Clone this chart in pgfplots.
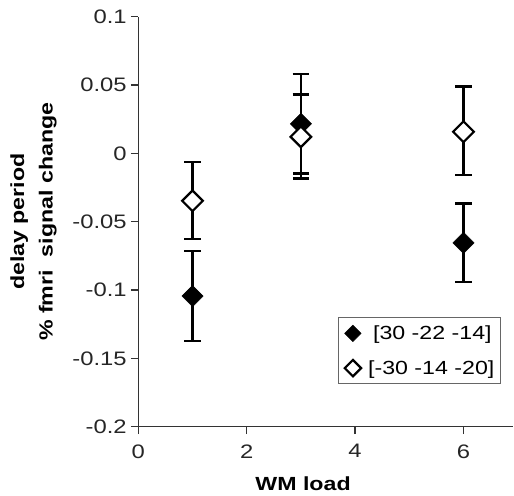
\documentclass[border=0pt]{standalone}
\usepackage{pgfplots}
\pgfplotsset{compat=1.18}
\usepackage{fontspec}
\setmainfont{Liberation Sans}[FakeStretch=1.22]
\newcommand{\tl}[1]{\mbox{\fontsize{19.5bp}{24bp}\selectfont #1}}
\begin{document}
\begin{tikzpicture}[font=\fontsize{19bp}{23bp}\selectfont]
\begin{axis}[
  scale only axis,
  width=375bp, height=410bp,
  xmin=0, xmax=6.92, ymin=-0.2, ymax=0.1,
  clip=false,
  axis x line*=bottom, axis y line*=left,
  axis line style={black!80, line width=1.3bp},
  tick align=outside,
  major tick length=7.5bp,
  tick style={black!80, line width=1.3bp},
  /pgf/number format/assume math mode=true,
  xtick={0,2,4,6}, xticklabels={\tl{0},\tl{2},\tl{4},\tl{6}},
  ytick={-0.2,-0.15,-0.1,-0.05,0,0.05,0.1},
  yticklabels={\tl{-0.2},\tl{-0.15},\tl{-0.1},\tl{-0.05},\tl{0},\tl{0.05},\tl{0.1}},
  xticklabel style={inner sep=2bp, yshift=-8bp, text=black!85},
  yticklabel style={inner sep=2bp, xshift=-2bp, text=black!85},
  legend style={at={(axis cs:3.69,-0.12)}, anchor=north west,
    draw=black!60, line width=0.8bp, inner xsep=6bp, inner ysep=6bp,
    nodes={inner xsep=0bp}, column sep=7bp, row sep=15.5bp,
    font=\fontsize{19bp}{23bp}\selectfont},
  legend cell align=left,
  legend image code/.code={\draw[mark repeat=2,mark phase=2,#1,mark size=5.8bp] plot coordinates {(0bp,0bp)(7bp,0bp)(14bp,0bp)};},
]
\addplot[only marks, black, mark=square*, mark size=7.5bp,
  mark options={rotate=45, fill=black, line width=0.5bp},
  error bars/.cd, y dir=both, y explicit,
  error bar style={line width=2.3bp, black},
  error mark options={rotate=90, mark size=8.3bp, line width=2.3bp, black}]
coordinates {
  (1,-0.1044) += (0,0.0330) -= (0,0.0330)
  (3,0.0216) += (0,0.0367) -= (0,0.0364)
  (6,-0.0655) += (0,0.0288) -= (0,0.0287)
};
\addlegendentry{\hspace{5bp}[30 -22 -14]}
\addplot[only marks, black, mark=square*, mark size=7.3bp,
  mark options={rotate=45, fill=white, draw=black, line width=2.2bp},
  error bars/.cd, y dir=both, y explicit,
  error bar style={line width=2.3bp, black},
  error mark options={rotate=90, mark size=8.3bp, line width=2.3bp, black}]
coordinates {
  (1,-0.0347) += (0,0.0286) -= (0,0.0282)
  (3,0.0121) += (0,0.0309) -= (0,0.0305)
  (6,0.0158) += (0,0.0330) -= (0,0.0318)
};
\addlegendentry{[-30 -14 -20]}
\node[anchor=base, font=\fontsize{19bp}{23bp}\selectfont\bfseries] at (axis cs:3.04,-0.2468) {WM load};
\node[rotate=90, align=center, inner sep=0pt, font=\fontsize{19bp}{28.5bp}\selectfont\bfseries] at (axis cs:-1.934,-0.05) {delay period\\\% fmri\ \ signal change};
\coordinate (BL) at (axis cs:-2.552,-0.25);
\coordinate (TR) at (axis cs:6.932,0.1122);
\end{axis}
\pgfresetboundingbox
\path (BL) rectangle (TR);
\end{tikzpicture}
\end{document}
